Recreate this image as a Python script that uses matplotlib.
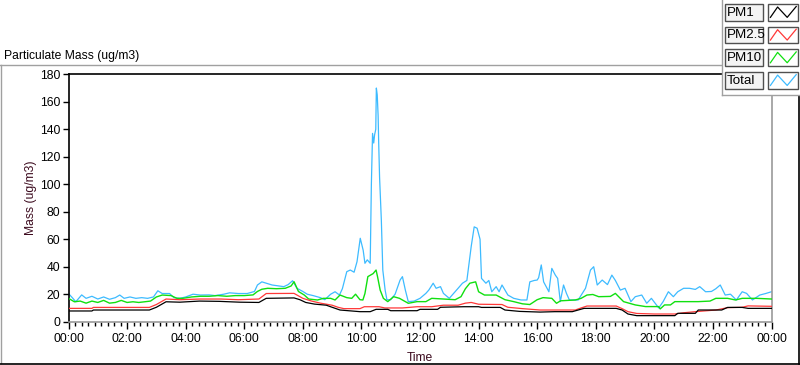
# Particulate mass over one day (LabVIEW-style waveform chart)

import matplotlib
matplotlib.use("Agg")
import matplotlib.pyplot as plt
from matplotlib.lines import Line2D
from matplotlib.patches import Rectangle
from matplotlib.ticker import FixedLocator, MultipleLocator, FuncFormatter


# time in hours since midnight, values in ug/m3
t_total = [0.0, 0.15, 0.25, 0.45, 0.6, 0.8, 1.0, 1.2, 1.4, 1.6, 1.75, 1.9, 2.1, 2.3, 2.5,
           2.7, 2.9, 3.05, 3.2, 3.45, 3.6, 3.8, 4.0, 4.25, 4.5, 4.8, 5.0, 5.3, 5.5, 5.8,
           6.1, 6.35, 6.45, 6.6, 6.75, 6.95, 7.2, 7.35, 7.5, 7.65, 7.8, 8.0, 8.15, 8.35,
           8.6, 8.75, 8.95, 9.1, 9.25, 9.35, 9.5, 9.62, 9.75, 9.85, 9.96, 10.06, 10.12,
           10.2, 10.3, 10.34, 10.38, 10.42, 10.45, 10.49, 10.51, 10.54, 10.57, 10.59,
           10.62, 10.68, 10.73, 10.81, 10.87, 11.0, 11.15, 11.32, 11.4, 11.5, 11.6, 11.8,
           12.0, 12.2, 12.3, 12.45, 12.55, 12.7, 12.8, 13.0, 13.1, 13.3, 13.45, 13.6,
           13.75, 13.85, 13.95, 14.05, 14.1, 14.25, 14.35, 14.45, 14.6, 14.7, 14.8, 15.0,
           15.2, 15.45, 15.65, 15.75, 15.9, 16.0, 16.05, 16.14, 16.22, 16.4, 16.5, 16.62,
           16.7, 16.79, 16.9, 17.0, 17.1, 17.4, 17.65, 17.82, 17.93, 18.05, 18.22, 18.4,
           18.55, 18.67, 18.84, 19.0, 19.2, 19.35, 19.57, 19.74, 19.9, 20.15, 20.3, 20.48,
           20.65, 20.8, 21.0, 21.2, 21.4, 21.55, 21.75, 21.95, 22.1, 22.25, 22.42, 22.6,
           22.8, 23.0, 23.15, 23.35, 23.6, 23.8, 24.0]
total = [20.5, 17, 14.5, 19.5, 17, 18.5, 16.5, 18, 16.3, 17.5, 19.4, 17, 18, 17, 17.5,
         17, 18, 22.5, 20.5, 20.5, 17.5, 17, 18, 20, 19.4, 19.5, 19, 20, 21, 20.5,
         20.5, 22, 26.7, 29, 28, 26.7, 26, 25.5, 27, 29.8, 24.3, 22, 20, 19,
         17.5, 16, 20, 21.8, 19.4, 24, 36.4, 37.6, 36, 43.7, 60.7, 52, 42.5,
         45, 42.5, 100, 137, 130, 136, 140, 170, 165, 150, 130,
         105, 74, 37.6, 23, 16, 16, 20, 30.3, 32.8, 23, 14.6, 15,
         17, 20.6, 23, 28, 24.3, 25.5, 20.6, 17, 19.4, 24.3, 28, 30,
         55, 69, 68, 60, 31.5, 28, 30, 21.8, 25.5, 21.8, 26.7, 19.4,
         17, 15.8, 15.8, 29, 30, 30.3, 32, 41.3, 29, 21.8, 38.8, 33.9,
         31.5, 14.6, 26.7, 20.6, 15.8, 15.8, 24.3, 37.6, 40, 26.7, 30.3, 27,
         33.9, 30, 23, 24.3, 14.6, 18.2, 19.4, 13.4, 17, 10, 14.6, 21.8,
         18.2, 21.8, 24.3, 24.3, 23.5, 25.5, 21.8, 22, 24, 26.7, 19.4, 20,
         15.8, 21.8, 20.6, 15.8, 19.4, 20.5, 21.8]

t_pm10 = [0.0, 0.2, 0.4, 0.6, 0.8, 1.0, 1.2, 1.4, 1.6, 1.8, 2.0, 2.2, 2.4, 2.6, 2.8,
          3.0, 3.2, 3.5, 3.7, 3.9, 4.2, 4.5, 4.8, 5.1, 5.4, 5.7, 6.0, 6.3, 6.45, 6.6,
          6.8, 7.1, 7.4, 7.6, 7.7, 7.85, 8.05, 8.2, 8.5, 8.7, 8.95, 9.1, 9.27, 9.5,
          9.67, 9.8, 9.95, 10.05, 10.12, 10.22, 10.4, 10.5, 10.55, 10.64, 10.75, 10.9,
          11.1, 11.3, 11.6, 11.9, 12.2, 12.4, 12.8, 13.2, 13.4, 13.55, 13.7, 13.9, 14.0,
          14.2, 14.6, 14.9, 15.2, 15.5, 15.75, 16.0, 16.2, 16.5, 16.66, 16.8, 17.3,
          17.5, 17.7, 17.9, 18.1, 18.5, 18.67, 18.95, 19.35, 19.7, 20.15, 20.2, 20.35,
          20.55, 20.7, 21.5, 21.9, 22.1, 22.5, 22.77, 23.0, 23.5, 24.0]
pm10 = [17, 14.5, 15, 13.5, 15, 14, 15.5, 13.5, 14, 15.5, 14, 14.5, 14, 14.5, 15,
        18, 19.4, 19, 17, 17, 18, 18.5, 18.5, 19, 18.5, 19, 19, 19.5, 22, 23.6,
        24.3, 24, 24.3, 26, 29.1, 22, 19.4, 16.5, 15.8, 17, 17, 15.8, 19.4, 17.5,
        17, 20, 16, 15.8, 20.5, 32.8, 35, 37.6, 32.8, 23, 17, 14.6,
        18.2, 17, 13.4, 14.6, 14.6, 17, 16.5, 16, 18.2, 24, 28, 29, 21.8,
        19.4, 19.4, 16, 14.6, 13, 12.5, 16, 17.5, 17, 13.4, 15.2, 15.8,
        17, 19.4, 19.8, 18.2, 18.4, 20.6, 14.6, 12.2, 11, 11, 9.3, 12.2,
        12.2, 14.6, 14.6, 15, 17, 17, 15.8, 17, 17, 16.5]

t_pm25 = [0.0, 0.8, 0.85, 2.76, 3.0, 3.33, 3.8, 4.5, 5.2, 5.8, 6.5, 6.75, 7.7, 8.0, 8.3,
          8.6, 9.0, 9.2, 9.4, 9.95, 10.1, 10.6, 10.8, 11.4, 11.9, 12.4, 12.8, 13.3,
          13.55, 13.75, 14.0, 14.8, 15.0, 15.5, 16.1, 17.3, 17.5, 17.7, 18.7, 18.9,
          19.1, 19.4, 20.0, 20.7, 21.0, 21.4, 22.1, 22.5, 23.0, 23.2, 24.0]
pm25 = [9.7, 9.7, 10.4, 10.4, 12.5, 16.5, 16, 16.5, 16.5, 16, 16.5, 20.5, 20.6, 17, 15,
        13.5, 12, 10.5, 9.5, 9.5, 10.9, 10.9, 10, 10, 10.9, 10.9, 12, 12,
        13.5, 14, 12.7, 12.5, 10.5, 9.5, 8.5, 8.5, 10, 11.4, 11.4, 9.5,
        7.3, 6, 5.6, 5.6, 6.5, 7.3, 8.5, 10.2, 10.5, 11.5, 11.2]

t_pm1 = [0.0, 0.8, 0.85, 2.76, 3.0, 3.33, 3.8, 4.47, 5.15, 5.84, 6.5, 6.75, 7.7, 7.9, 8.1,
         8.4, 8.8, 9.0, 9.27, 9.95, 10.3, 10.5, 10.9, 11.0, 11.9, 12.0, 12.6, 12.7,
         13.5, 14.0, 14.1, 14.74, 14.9, 15.4, 16.1, 16.6, 17.2, 17.6, 18.7, 18.9,
         19.1, 19.4, 20.0, 20.7, 20.8, 21.4, 21.5, 22.3, 22.5, 23.0, 23.2, 24.0]
pm1 = [7.8, 7.8, 8.5, 8.5, 10.5, 14.5, 14.2, 15, 14.8, 14.2, 14, 17, 17.3, 16, 14,
       12.8, 12, 10.5, 8.5, 7.3, 7.3, 9, 9, 8, 8, 9, 9, 10.5,
       10.9, 10.9, 10.4, 10.4, 8.5, 7.5, 7.0, 7.3, 7.3, 9.7, 9.7, 8.5,
       5.6, 4.4, 4.4, 4.4, 6.1, 6.1, 8.5, 8.5, 10.4, 10.4, 9.7, 9.7]

names = ["PM1", "PM2.5", "PM10", "Total"]
colors = ["#000000", "#ff3838", "#10e010", "#3dbbff"]

###

plt.rcParams["font.family"] = ["Liberation Sans", "DejaVu Sans"]
plt.rcParams["font.size"] = 8.7

fig = plt.figure(figsize=(8, 3.65), dpi=100, facecolor="white")
W, H = 800.0, 365.0

ax = fig.add_axes([68.5 / W, 1 - 321.7 / H, 703 / W, 247.4 / H])

ax.plot(t_total, total, color=colors[3], lw=0.9, zorder=2)
ax.plot(t_pm10, pm10, color=colors[2], lw=1.0, zorder=3)
ax.plot(t_pm25, pm25, color=colors[1], lw=0.9, zorder=4)
ax.plot(t_pm1, pm1, color=colors[0], lw=0.9, zorder=5)

ax.set_xlim(0, 24)
ax.set_ylim(0, 180)
ax.yaxis.set_major_locator(MultipleLocator(20))
ax.xaxis.set_major_locator(MultipleLocator(2))
ax.xaxis.set_minor_locator(FixedLocator([i * 2 / 9 for i in range(109)]))
ax.xaxis.set_major_formatter(FuncFormatter(lambda v, p: "%02d:00" % (int(round(v)) % 24)))

ax.tick_params(axis="y", direction="out", length=4, width=1, pad=2, colors="black")
ax.tick_params(axis="x", which="major", direction="out", length=5, width=1, pad=3)
ax.tick_params(axis="x", which="minor", direction="out", length=3, width=1)

for side in ["top", "left"]:
    ax.spines[side].set_color("black")
    ax.spines[side].set_linewidth(1.2)
for side in ["right", "bottom"]:
    ax.spines[side].set_color("#999999")
    ax.spines[side].set_linewidth(1.2)

ax.set_ylabel("Mass (ug/m3)", color="#3c0a1e", labelpad=2)
ax.set_xlabel("Time", color="#3c0a1e", labelpad=5)

# panel frame and title
fig.text(4 / W, 1 - 55.5 / H, "Particulate Mass (ug/m3)", ha="left", va="center")
fig.add_artist(Line2D([0, 722 / W], [1 - 64.5 / H] * 2, color="#a0a0a0", lw=1))
fig.add_artist(Line2D([1 / W] * 2, [1 - 64.5 / H, 1 - 363 / H], color="#a0a0a0", lw=1))
fig.add_artist(Line2D([0, 1], [1 - 363.5 / H] * 2, color="black", lw=1.2))
fig.add_artist(Line2D([799 / W] * 2, [1 - 95 / H, 1 - 363.5 / H], color="black", lw=1.2))

# legend panel (covers the top-right corner of the plot)
fig.add_artist(Rectangle((722 / W, 1 - 95 / H), 78 / W, 95 / H, facecolor="white",
                         edgecolor="none", zorder=10))
fig.add_artist(Line2D([722 / W] * 2, [1, 1 - 95 / H], color="#a0a0a0", lw=1, zorder=11))
fig.add_artist(Line2D([722 / W, 1], [1 - 95 / H] * 2, color="#a0a0a0", lw=1, zorder=11))

for i, (name, c) in enumerate(zip(names, colors)):
    top = 4 + i * 22.7
    fig.add_artist(Rectangle((725 / W, 1 - (top + 16.7) / H), 38 / W, 16.7 / H,
                             facecolor="#f4f4f4", edgecolor="#505050", lw=1, zorder=11))
    fig.text(727 / W, 1 - (top + 8.8) / H, name, ha="left", va="center", fontsize=9.6,
             zorder=12)
    x0, x1 = 768 / W, 798 / W
    fig.add_artist(Rectangle((x0, 1 - (top + 16.7) / H), x1 - x0, 16.7 / H,
                             facecolor="white", edgecolor="#505050", lw=1, zorder=11))
    zx = [0.08, 0.32, 0.64, 0.94]
    zy = [0.2, 0.82, 0.2, 0.85]
    fig.add_artist(Line2D([x0 + (x1 - x0) * a for a in zx],
                          [1 - (top + 16.7) / H + 16.7 / H * b for b in zy],
                          color=c, lw=0.9, zorder=12))

plt.savefig("out.png", dpi=100, facecolor="white")
